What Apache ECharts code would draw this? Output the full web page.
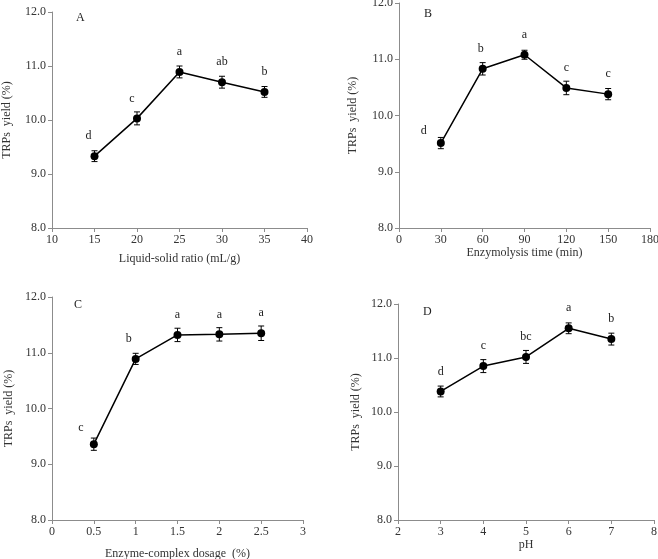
<!DOCTYPE html>
<html>
<head>
<meta charset="utf-8">
<script src="https://cdn.jsdelivr.net/npm/echarts@6/dist/echarts.min.js"></script>
<style>
  html, body { margin: 0; padding: 0; background: #fff; }
  #chart { width: 658px; height: 559px; }
</style>
</head>
<body>
<div id="chart"></div>
<script>
// panel A: liquid-solid ratio
const ratioX = [15, 20, 25, 30, 35];
const ratioY = [9.33, 10.03, 10.89, 10.70, 10.52];
const ratioErr = [0.10, 0.12, 0.11, 0.11, 0.10];
const ratioLetters = ['d', 'c', 'a', 'ab', 'b'];

// panel B: enzymolysis time
const timeX = [30, 60, 90, 120, 150];
const timeY = [9.51, 10.83, 11.08, 10.49, 10.38];
const timeErr = [0.10, 0.11, 0.08, 0.12, 0.10];
const timeLetters = ['d', 'b', 'a', 'c', 'c'];

// panel C: enzyme-complex dosage
const dosageX = [0.5, 1, 1.5, 2, 2.5];
const dosageY = [9.36, 10.89, 11.32, 11.33, 11.35];
const dosageErr = [0.11, 0.10, 0.12, 0.12, 0.13];
const dosageLetters = ['c', 'b', 'a', 'a', 'a'];

// panel D: pH
const phX = [3, 4, 5, 6, 7];
const phY = [10.38, 10.85, 11.02, 11.55, 11.35];
const phErr = [0.10, 0.12, 0.12, 0.10, 0.11];
const phLetters = ['d', 'c', 'bc', 'a', 'b'];

const yTicks = [8, 9, 10, 11, 12];

const FONT = 'Liberation Serif';

const panels = [
  { tag: 'A', xs: ratioX, ys: ratioY, err: ratioErr, letters: ratioLetters,
    xName: 'Liquid-solid ratio (mL/g)', xMin: 10, xMax: 40, xStep: 5,
    grid: { left: 52, top: 12, width: 255, height: 216 }, xGap: 25, yGap: 39,
    tagPos: [81, 19], shift: [[-6, 0], [-5, 0], [0, 0], [0, 0], [0, 0]] },
  { tag: 'B', xs: timeX, ys: timeY, err: timeErr, letters: timeLetters,
    xName: 'Enzymolysis time (min)', xMin: 0, xMax: 180, xStep: 30,
    grid: { left: 399, top: 3, width: 251, height: 225 }, xGap: 15, yGap: 40,
    tagPos: [429, 15], shift: [[-17, 8], [-2, 0], [0, 0], [0, 0], [0, 0]] },
  { tag: 'C', xs: dosageX, ys: dosageY, err: dosageErr, letters: dosageLetters,
    xName: 'Enzyme-complex dosage  (%)', xMin: 0, xMax: 3, xStep: 0.5,
    grid: { left: 52, top: 297, width: 251, height: 223 }, xGap: 28, yGap: 37,
    tagPos: [79, 306], shift: [[-13, 4], [-7, 0], [0, 0], [0, 0], [0, 0]] },
  { tag: 'D', xs: phX, ys: phY, err: phErr, letters: phLetters,
    xName: 'pH', xMin: 2, xMax: 8, xStep: 1,
    grid: { left: 398, top: 304, width: 256, height: 216 }, xGap: 19, yGap: 36,
    tagPos: [428, 313], shift: [[0, 0], [0, 0], [0, 0], [0, 0], [0, 0]] }
];

const axisGrey = '#8c8c8c';
const textStyle = { fontFamily: FONT, fontSize: 12, color: '#333' };

const grids = [], xAxes = [], yAxes = [], series = [], graphics = [];

panels.forEach((p, i) => {
  grids.push(Object.assign({ outerBoundsMode: 'none', containLabel: false }, p.grid));
  xAxes.push({
    type: 'value', gridIndex: i, min: p.xMin, max: p.xMax, interval: p.xStep,
    name: p.xName, nameLocation: 'middle', nameGap: p.xGap,
    nameTextStyle: { fontFamily: FONT, fontSize: 12, color: '#333' },
    axisLine: { lineStyle: { color: axisGrey, width: 1 } },
    axisTick: { show: true, length: 4, lineStyle: { color: axisGrey } },
    axisLabel: { fontFamily: FONT, fontSize: 12, color: '#333', margin: 6 },
    splitLine: { show: false }
  });
  yAxes.push({
    type: 'value', gridIndex: i, min: yTicks[0], max: yTicks[yTicks.length - 1], interval: 1,
    name: 'TRPs  yield (%)', nameLocation: 'middle', nameGap: p.yGap, nameRotate: 90,
    nameTextStyle: { fontFamily: FONT, fontSize: 12, color: '#333' },
    axisLine: { show: true, lineStyle: { color: axisGrey, width: 1 } },
    axisTick: { show: true, length: 4, lineStyle: { color: axisGrey } },
    axisLabel: { fontFamily: FONT, fontSize: 12, color: '#333', margin: 6,
      formatter: (v) => v.toFixed(1) },
    splitLine: { show: false }
  });

  series.push({
    type: 'line', xAxisIndex: i, yAxisIndex: i,
    data: p.xs.map((x, k) => ({
      value: [x, p.ys[k]],
      label: {
        show: true, position: 'top', distance: 10, formatter: p.letters[k],
        offset: p.shift[k], fontFamily: FONT, fontSize: 12, color: '#222'
      }
    })),
    symbol: 'circle', symbolSize: 8, showSymbol: true,
    lineStyle: { color: '#000', width: 1.5 },
    itemStyle: { color: '#000' },
    z: 3, animation: false
  });

  series.push({
    type: 'custom', xAxisIndex: i, yAxisIndex: i,
    data: p.xs.map((x, k) => [x, p.ys[k], p.err[k]]),
    renderItem: (params, api) => {
      const x = api.value(0), y = api.value(1), e = api.value(2);
      const hi = api.coord([x, y + e]);
      const lo = api.coord([x, y - e]);
      const w = 3;
      const st = { stroke: '#000', lineWidth: 1 };
      return {
        type: 'group',
        children: [
          { type: 'line', shape: { x1: hi[0], y1: hi[1], x2: lo[0], y2: lo[1] }, style: st },
          { type: 'line', shape: { x1: hi[0] - w, y1: hi[1], x2: hi[0] + w, y2: hi[1] }, style: st },
          { type: 'line', shape: { x1: lo[0] - w, y1: lo[1], x2: lo[0] + w, y2: lo[1] }, style: st }
        ]
      };
    },
    z: 2, animation: false
  });

  graphics.push({
    type: 'text', left: p.tagPos[0] - 5, top: p.tagPos[1] - 7,
    style: { text: p.tag, font: '12px "' + FONT + '"', fill: '#222' }
  });
});

const chart = echarts.init(document.getElementById('chart'));
chart.setOption({
  backgroundColor: '#fff',
  animation: false,
  textStyle: textStyle,
  grid: grids,
  xAxis: xAxes,
  yAxis: yAxes,
  series: series,
  graphic: graphics
});
</script>
</body>
</html>
